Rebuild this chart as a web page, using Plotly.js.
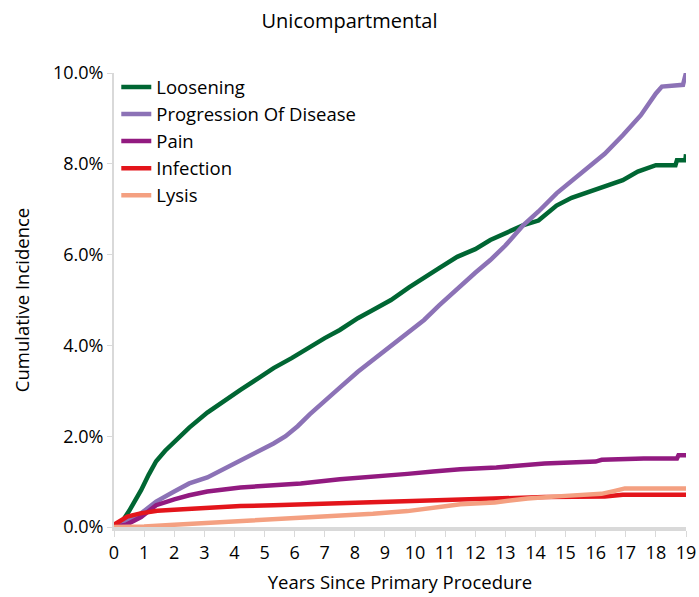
<!DOCTYPE html>
<html>
<head>
<meta charset="utf-8">
<script src="https://cdn.plot.ly/plotly-3.0.1.min.js"></script>
<style>html,body{margin:0;padding:0;background:#fff;}#chart{width:699px;height:597px;}</style>
</head>
<body>
<div id="chart"></div>
<script>
// Cumulative incidence (%) by years since primary procedure
const seriesNames = ["Loosening", "Progression Of Disease", "Pain", "Infection", "Lysis"];
const seriesColors = ["#006633", "#8C72B6", "#921A80", "#E3151B", "#F4A081"];

const looseningX = [0, 0.2, 0.5, 0.9, 1.15, 1.4, 1.7, 2.0, 2.5, 3.1, 3.6, 4.2, 4.8, 5.3, 5.9, 6.4, 7.0, 7.5, 8.1, 8.6, 9.2, 9.8, 10.3, 10.8, 11.4, 12.0, 12.5, 13.0, 13.6, 14.1, 14.7, 15.2, 15.8, 16.3, 16.9, 17.4, 17.7, 18.0, 18.65, 18.7, 18.98, 19.0];
const looseningY = [0, 0.05, 0.35, 0.81, 1.15, 1.45, 1.68, 1.88, 2.19, 2.52, 2.76, 3.02, 3.28, 3.5, 3.72, 3.93, 4.16, 4.34, 4.6, 4.78, 5.0, 5.28, 5.5, 5.7, 5.95, 6.12, 6.32, 6.48, 6.65, 6.75, 7.08, 7.25, 7.39, 7.5, 7.64, 7.83, 7.9, 7.97, 7.97, 8.08, 8.08, 8.21];

const progressionX = [0, 0.4, 0.9, 1.4, 2.0, 2.5, 3.1, 3.6, 4.2, 4.8, 5.3, 5.7, 6.1, 6.5, 7.0, 7.5, 8.1, 8.6, 9.2, 9.8, 10.3, 10.8, 11.4, 12.0, 12.5, 13.0, 13.6, 14.1, 14.7, 15.2, 15.8, 16.3, 16.9, 17.5, 18.0, 18.2, 18.9, 19.0];
const progressionY = [0, 0.12, 0.3, 0.56, 0.78, 0.96, 1.09, 1.26, 1.45, 1.66, 1.84, 2.0, 2.22, 2.48, 2.76, 3.07, 3.42, 3.68, 3.97, 4.3, 4.56, 4.88, 5.25, 5.6, 5.88, 6.2, 6.65, 6.95, 7.35, 7.62, 7.94, 8.22, 8.63, 9.07, 9.55, 9.7, 9.74, 10.0];

const painX = [0, 0.4, 0.9, 1.4, 2.0, 2.5, 3.1, 4.2, 5.3, 6.2, 7.5, 8.4, 9.75, 10.6, 11.5, 12.7, 14.3, 16.0, 16.2, 17.6, 18.7, 18.75, 19.0];
const painY = [0, 0.05, 0.22, 0.48, 0.61, 0.70, 0.78, 0.87, 0.92, 0.96, 1.05, 1.09, 1.17, 1.22, 1.27, 1.31, 1.40, 1.44, 1.48, 1.51, 1.51, 1.58, 1.58];

const infectionX = [0, 0.2, 0.44, 0.88, 1.44, 2.0, 3.1, 4.2, 5.3, 6.4, 7.5, 8.6, 9.75, 10.6, 11.5, 12.7, 14.3, 16.3, 16.9, 19.0];
const infectionY = [0.05, 0.12, 0.23, 0.30, 0.36, 0.38, 0.43, 0.46, 0.48, 0.50, 0.53, 0.55, 0.58, 0.59, 0.61, 0.63, 0.66, 0.67, 0.71, 0.71];

const lysisX = [0, 1.0, 2.0, 3.1, 4.2, 5.3, 6.4, 7.5, 8.6, 9.75, 10.6, 11.5, 12.65, 13.74, 14.86, 16.19, 16.6, 16.97, 19.0];
const lysisY = [0, 0.01, 0.05, 0.09, 0.12, 0.17, 0.20, 0.24, 0.29, 0.35, 0.43, 0.50, 0.54, 0.63, 0.68, 0.73, 0.79, 0.85, 0.85];

const xTicks = [0,1,2,3,4,5,6,7,8,9,10,11,12,13,14,15,16,17,18,19];
const yTicks = [0, 2, 4, 6, 8, 10];
const yTickText = ["0.0%", "2.0%", "4.0%", "6.0%", "8.0%", "10.0%"];

const xs = [looseningX, progressionX, painX, infectionX, lysisX];
const ys = [looseningY, progressionY, painY, infectionY, lysisY];

const font = "Open Sans, Noto Sans, sans-serif";
const traces = seriesNames.map((n, i) => ({
  type: "scatter", mode: "lines", name: n,
  x: xs[i], y: ys[i],
  line: {color: seriesColors[i], width: 4.5},
  hoverinfo: "skip"
}));

const layout = {
  width: 699, height: 597,
  margin: {l: 114, r: 13, t: 73, b: 70},
  paper_bgcolor: "#ffffff", plot_bgcolor: "#ffffff",
  font: {family: font, color: "#000000", size: 18},
  title: {text: "Unicompartmental", xref: "container", x: 0.5, xanchor: "center", y: 0.965, yanchor: "middle", font: {family: font, size: 20, color: "#000"}},
  xaxis: {
    range: [0, 19], tickmode: "array", tickvals: xTicks, ticktext: xTicks.map(String),
    showgrid: false, zeroline: false,
    showline: true, linecolor: "#D9D9D9", linewidth: 4,
    ticks: "outside", ticklen: 6, tickcolor: "#D9D9D9", tickwidth: 1,
    tickfont: {family: font, size: 18},
    title: {text: "Years Since Primary Procedure", font: {family: font, size: 18.5}, standoff: 14}
  },
  yaxis: {
    range: [0, 10], tickmode: "array", tickvals: yTicks, ticktext: yTickText,
    showgrid: false, zeroline: false,
    showline: true, linecolor: "#D9D9D9", linewidth: 2,
    ticks: "outside", ticklen: 5, tickcolor: "#D9D9D9", tickwidth: 1,
    tickfont: {family: font, size: 18},
    title: {text: "Cumulative Incidence", font: {family: font, size: 18.5}, standoff: 18}
  },
  legend: {
    x: 0.004, y: 1.01, xanchor: "left", yanchor: "top",
    bgcolor: "rgba(0,0,0,0)", font: {family: font, size: 18.5},
    traceorder: "normal"
  },
  showlegend: true
};

Plotly.newPlot("chart", traces, layout, {displayModeBar: false, staticPlot: true});
</script>
</body>
</html>
